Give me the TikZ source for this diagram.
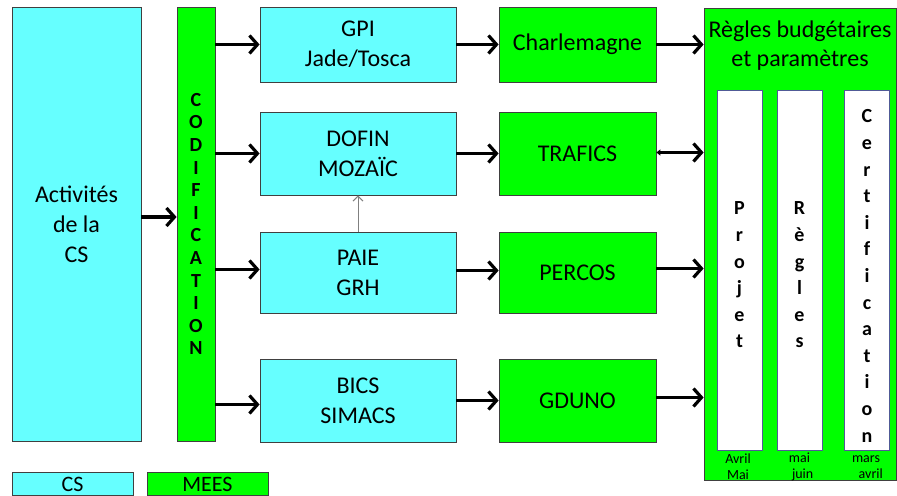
\documentclass[tikz,border=0pt]{standalone}
\usepackage{fontspec}
\setmainfont{Carlito}
\usetikzlibrary{arrows.meta}

\definecolor{csblue}{RGB}{102,255,255}
\definecolor{meesgreen}{RGB}{0,255,0}
\definecolor{edgegray}{RGB}{64,64,64}
\definecolor{colborder}{RGB}{80,90,150}

\tikzset{
  csbox/.style={draw=edgegray,fill=csblue,align=center,inner sep=0pt,
    font=\fontsize{12}{15}\selectfont},
  meesbox/.style={draw=edgegray,fill=meesgreen,align=center,inner sep=0pt,
    font=\fontsize{12}{15}\selectfont},
  colbox/.style={draw=colborder,fill=white,inner sep=0pt,
    minimum width=22.5pt,minimum height=180pt},
  coltext/.style={align=center,inner sep=0pt,
    font=\fontsize{10}{13.3}\selectfont\bfseries},
  flow/.style={line width=1.6pt,-{Straight Barb[length=4pt,width=9pt,line width=1.6pt]}},
  month/.style={font=\fontsize{7}{8}\selectfont,align=center,inner sep=0pt}
}

\begin{document}
\begin{tikzpicture}[x=0.5pt,y=-0.5pt]

        \useasboundingbox (0,0) rectangle (897,496);

        % boites CS et MEES
        \node[csbox,minimum width=64.5pt,minimum height=217pt] (acts) at (76.5,224)
          {Activités\\de la\\CS};
        \node[meesbox,minimum width=19pt,minimum height=217pt,
              font=\fontsize{10}{11.3}\selectfont\bfseries] (codif) at (196,224)
          {C\\O\\D\\I\\F\\I\\C\\A\\T\\I\\O\\N};

        \begin{scope}[every node/.append style={minimum width=98pt}]
          \node[csbox,minimum height=37.5pt] (gpi)   at (358,44.5)  {GPI\\Jade/Tosca};
          \node[csbox,minimum height=41.5pt] (dofin) at (358,153.5) {DOFIN\\MOZAÏC};
          \node[csbox,minimum height=40.5pt] (paie)  at (358,272.5) {PAIE\\GRH};
          \node[csbox,minimum height=41.5pt] (bics)  at (358,400.5) {BICS\\SIMACS};
        \end{scope}

        \begin{scope}[every node/.append style={minimum width=78.5pt}]
          \node[meesbox,minimum height=37.5pt] (charl)   at (577.5,44.5)  {Charlemagne};
          \node[meesbox,minimum height=41.5pt] (trafics) at (577.5,153.5) {TRAFICS};
          \node[meesbox,minimum height=40.5pt] (percos)  at (577.5,272.5) {PERCOS};
          \node[meesbox,minimum height=41.5pt] (gduno)   at (577.5,400.5) {GDUNO};
        \end{scope}

        % regles budgetaires
        \node[meesbox,minimum width=96pt,minimum height=236pt] (regles) at (800,244) {};
        \node[align=center,font=\fontsize{12}{14.5}\selectfont,inner sep=0pt] (titre)
          at (800,46) {Règles budgétaires\\et paramètres};
        \node[colbox] (projet) at (739.5,270) {};
        \node[colbox] (regl)   at (799.5,270) {};
        \node[colbox] (certif) at (867,270)   {};
        \node[coltext] (tprojet) at (739.5,275) {P\\r\\o\\j\\e\\t};
        \node[coltext] (tregl)   at (799.5,275) {R\\è\\g\\l\\e\\s};
        \node[coltext] (tcertif) at (867,276)   {C\\e\\r\\t\\i\\f\\i\\c\\a\\t\\i\\o\\n};
        \node[month] (m1) at (738,467) {Avril\\Mai};
        \node[month] (m2) at (799.5,467) {mai\\\ \ juin};
        \node[month] (m3) at (866,467)   {mars\\\ \ \ avril};

        % legende
        \node[csbox,minimum width=60.5pt,minimum height=11.5pt,
              font=\fontsize{11}{13}\selectfont] (lcs) at (72.5,484) {CS};
        \node[meesbox,minimum width=60.5pt,minimum height=11.5pt,
              font=\fontsize{11}{13}\selectfont] (lmees) at (207.5,484) {MEES};

        % fleches
        \draw[flow] ([yshift=3.5pt]acts.east) -- ([yshift=3.5pt]acts.east -| codif.west);
        \draw[flow] (codif.east |- gpi) -- (gpi);
        \draw[flow] (codif.east |- dofin) -- (dofin);
        \draw[flow] ([yshift=1.5pt]codif.east |- paie) -- ([yshift=1.5pt]paie.west);
        \draw[flow] ([yshift=-2pt]codif.east |- bics) -- ([yshift=-2pt]bics.west);

        \draw[flow] (gpi) -- (charl);
        \draw[flow] (dofin) -- (trafics);
        \draw[flow] ([yshift=1pt]paie.east) -- ([yshift=1pt]percos.west);
        \draw[flow] (bics) -- (gduno);

        \draw[flow] (charl.east) -- (charl.east -| regles.west);
        \draw[flow,{Triangle[length=2pt,width=3pt]}-{Straight Barb[length=4pt,width=9pt,line width=1.6pt]}]
          ([yshift=0.5pt]trafics.east) -- ([yshift=0.5pt]trafics.east -| regles.west);
        \draw[flow] ([yshift=2pt]percos.east) -- ([yshift=2pt]percos.east -| regles.west);
        \draw[flow] ([yshift=1.5pt]gduno.east) -- ([yshift=1.5pt]gduno.east -| regles.west);

        \draw[gray,line width=0.5pt,-{Straight Barb[length=2.5pt,width=5pt]}] (paie) -- (dofin);

      \end{tikzpicture}
\end{document}
